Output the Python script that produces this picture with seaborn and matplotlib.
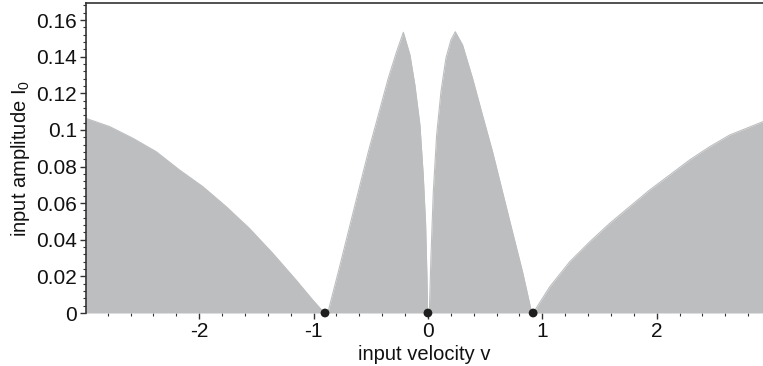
import matplotlib
matplotlib.use('Agg')
import matplotlib.pyplot as plt
import matplotlib.ticker as mticker
import seaborn as sns
import pandas as pd

# boundary curves of the stable region (v, I0)
left_v = [-2.99, -2.783, -2.579, -2.376, -2.172, -1.968, -1.764, -1.561, -1.357, -1.153, -1.007, -0.906]
left_i = [0.1063, 0.1018, 0.0954, 0.0881, 0.0781, 0.0690, 0.0581, 0.0462, 0.0326, 0.0180, 0.0071, 0.0]

lobe1_v = [-0.876, -0.783, -0.696, -0.609, -0.521, -0.434, -0.347, -0.274, -0.215,
           -0.157, -0.114, -0.070, -0.041, -0.020, -0.009, -0.003]
lobe1_i = [0.0, 0.0226, 0.0444, 0.0662, 0.0881, 0.1081, 0.1282, 0.1427, 0.1533,
           0.1409, 0.1245, 0.1027, 0.0754, 0.0481, 0.0208, 0.0]

lobe2_v = [0.012, 0.026, 0.047, 0.076, 0.114, 0.157, 0.201, 0.239,
           0.303, 0.390, 0.477, 0.565, 0.652, 0.739, 0.827, 0.908]
lobe2_i = [0.0, 0.0299, 0.0662, 0.0972, 0.1209, 0.1391, 0.1491, 0.1536,
           0.1464, 0.1282, 0.1081, 0.0881, 0.0662, 0.0444, 0.0226, 0.0]

right_v = [0.92, 1.066, 1.240, 1.415, 1.590, 1.764, 1.939, 2.114, 2.288, 2.463, 2.638, 2.93]
right_i = [0.0, 0.0144, 0.0280, 0.0389, 0.0490, 0.0581, 0.0672, 0.0754, 0.0836, 0.0908, 0.0972, 0.1045]

# bifurcation points on the axis
dots_v = [-0.90, 0.0, 0.92]
dots_i = [0.0, 0.0, 0.0]

xticks = [-2, -1, 0, 1, 2]
xticklabels = ['-2', '-1', '0', '1', '2']
yticks = [0, 0.02, 0.04, 0.06, 0.08, 0.1, 0.12, 0.14, 0.16]
yticklabels = ['0', '0.02', '0.04', '0.06', '0.08', '0.1', '0.12', '0.14', '0.16']

sns.set_style('ticks')
plt.rcParams['font.family'] = ['Liberation Sans', 'DejaVu Sans']

gray = '#bdbec0'

fig = plt.figure(figsize=(7.63, 3.66), dpi=100)
ax = fig.add_axes([0.1127, 0.1448, 0.8873, 0.847])

for v, i in [(left_v, left_i), (lobe1_v, lobe1_i), (lobe2_v, lobe2_i), (right_v, right_i)]:
    ax.fill_between(v, 0, i, color=gray, lw=0)
    sns.lineplot(x=v, y=i, ax=ax, color=gray, lw=0.8, sort=False)

ax.axhline(0, color=gray, lw=2.5, zorder=1)

dots = pd.DataFrame({'v': dots_v, 'I0': dots_i})
sns.scatterplot(data=dots, x='v', y='I0', ax=ax, color='#1e1e1e', s=40,
                edgecolor='none', clip_on=False, zorder=5)

ax.set_xlim(-2.99, 2.93)
ax.set_ylim(0, 0.1693)

ax.set_xticks(xticks)
ax.set_xticklabels(xticklabels)
ax.set_yticks(yticks)
ax.set_yticklabels(yticklabels)
ax.xaxis.set_minor_locator(mticker.MultipleLocator(0.2))
ax.yaxis.set_minor_locator(mticker.MultipleLocator(0.004))

ax.tick_params(which='major', direction='out', length=4.5, width=1, color='#333333',
               labelsize=15, labelcolor='#111111', pad=2)
ax.tick_params(which='minor', direction='out', length=2.5, width=0.8, color='#333333')

for s in ['right', 'bottom']:
    ax.spines[s].set_visible(False)
for s in ['left', 'top']:
    ax.spines[s].set_color('#333333')
    ax.spines[s].set_linewidth(1.2)

ax.set_xlabel('input velocity v', fontsize=14.5, color='#111111', labelpad=3)
ax.set_ylabel('input amplitude I$\\mathregular{_0}$', fontsize=14.5, color='#111111', labelpad=3)

fig.savefig('out.png', dpi=100)
